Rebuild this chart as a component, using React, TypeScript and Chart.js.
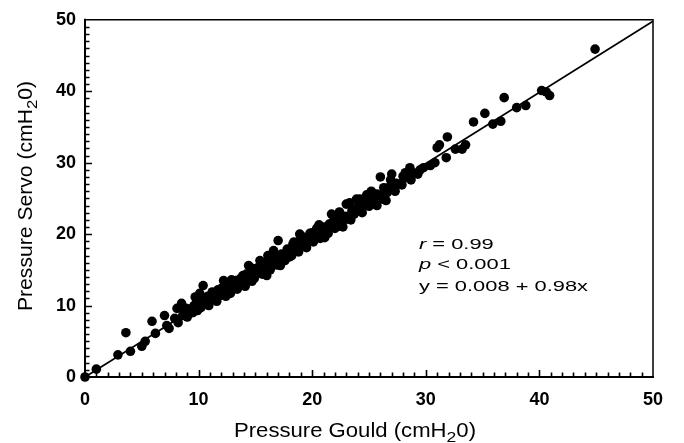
import React, { useEffect, useRef } from "react";
import { Chart, registerables } from "chart.js";

Chart.register(...registerables);

// Pressure Gould (x) and Pressure Servo (y), cmH2O
const gouldValues = [
  0, 1.0, 2.9, 3.6, 4.0, 5.0, 5.3, 5.9, 6.2, 7.0, 7.2, 7.4, 7.9, 8.1, 8.2, 8.5, 8.6, 8.8, 8.9, 9.2,
  9.5, 9.6, 9.7, 10.0, 10.1, 10.2, 10.4, 10.5, 10.7, 10.8, 11.0, 11.2, 11.4, 11.5, 11.7, 11.9, 12.0, 12.2, 12.3, 12.5,
  12.7, 12.8, 13.0, 13.1, 13.3, 13.5, 13.7, 13.9, 14.0, 14.2, 14.4, 14.5, 14.7, 14.8, 15.0, 15.2, 15.4, 15.5, 15.7, 15.9,
  16.0, 16.2, 16.4, 16.5, 16.6, 16.8, 17.0, 17.1, 17.2, 17.3, 17.5, 17.8, 18.0, 18.1, 18.3, 18.4, 18.6, 18.9, 18.9, 19.2,
  19.4, 19.5, 19.7, 19.8, 20.0, 20.2, 20.4, 20.5, 20.8, 21.0, 21.1, 21.3, 21.5, 21.7, 21.8, 21.9, 22.1, 22.3, 22.6, 22.7,
  22.9, 23.0, 23.0, 23.2, 23.3, 23.5, 23.7, 23.9, 24.0, 24.2, 24.3, 24.6, 24.9, 25.1, 25.2, 25.4, 25.7, 25.7, 26.0, 26.0,
  26.3, 26.5, 26.6, 26.8, 27.0, 27.1, 27.4, 27.7, 28.0, 28.2, 28.3, 28.6, 28.9, 29.3, 29.5, 29.8, 30.4, 30.8, 31.0, 31.2,
  31.8, 31.9, 32.6, 33.2, 33.5, 34.2, 35.2, 35.9, 36.6, 36.9, 38.0, 38.8, 40.2, 40.6, 40.9, 44.9,
  9.0, 9.9, 10.9, 11.6, 12.4, 13.4, 14.1, 14.9, 15.6, 16.3, 16.9, 17.6, 18.2, 18.8, 19.4, 20.1, 20.7, 21.4, 22.0, 22.5,
  23.4, 24.4, 25.0, 25.5, 26.2, 27.3, 27.9, 28.7, 12.9, 14.6, 16.1, 19.0, 20.6, 22.4, 24.8, 26.9,
];
const servoValues = [
  0, 1.1, 3.1, 6.2, 3.6, 4.3, 5.0, 7.8, 6.1, 8.6, 7.2, 6.8, 8.2, 9.6, 7.6, 10.3, 8.6, 9.1, 9.6, 9.5,
  9.0, 10.0, 11.2, 10.6, 11.7, 9.7, 12.8, 11.0, 10.5, 11.3, 10.7, 11.9, 11.7, 11.1, 12.2, 11.4, 12.4, 13.5, 12.6, 11.9,
  12.9, 11.7, 12.4, 12.8, 13.5, 12.9, 13.8, 14.2, 13.3, 14.4, 15.6, 13.9, 13.4, 14.9, 14.3, 15.3, 16.3, 14.8, 16.0, 15.2,
  14.2, 16.4, 15.4, 15.9, 17.7, 16.9, 19.1, 16.3, 15.6, 17.2, 16.8, 17.9, 16.8, 17.4, 18.6, 18.9, 17.9, 20.0, 19.0, 18.5,
  19.5, 18.1, 18.9, 20.1, 20.2, 19.6, 20.8, 20.3, 20.0, 21.0, 19.5, 20.5, 21.4, 22.8, 21.6, 21.9, 21.2, 22.2, 21.7, 21.0,
  22.5, 22.1, 24.2, 22.4, 24.4, 23.3, 22.8, 24.9, 23.8, 24.9, 23.4, 24.2, 24.6, 25.2, 26.0, 24.9, 24.0, 25.6, 25.4, 28.0,
  26.5, 24.7, 25.8, 26.6, 28.4, 26.5, 27.1, 27.0, 28.1, 28.6, 27.9, 29.3, 28.6, 28.4, 29.0, 29.3, 29.6, 30.0, 32.1, 32.5,
  30.7, 33.6, 31.9, 31.9, 32.5, 35.7, 36.9, 35.4, 35.8, 39.1, 37.7, 38.0, 40.1, 39.9, 39.4, 45.9,
  8.4, 9.3, 10.0, 10.6, 11.3, 12.3, 12.7, 13.8, 14.4, 15.0, 15.7, 16.3, 17.0, 17.5, 18.2, 18.9, 19.4, 20.1, 20.8, 21.1,
  22.0, 23.0, 23.9, 24.2, 24.9, 26.0, 26.9, 27.6, 13.6, 15.3, 17.0, 19.8, 21.3, 23.1, 25.5, 27.6,
];

// Regression line end points
const fitX = [0, 50];
const fitY = [0, 49.8];

const axisMin = 0;
const axisMax = 50;
const majorStep = 10;
const minorStep = 1;

const xTitle = ["Pressure Gould (cmH", "2", "0)"];
const yTitle = ["Pressure Servo (cmH", "2", "0)"];
const statLines = [
  [["r", true], [" = 0.99", false]],
  [["p", true], [" < 0.001", false]],
  [["y = 0.008 + 0.98x", false]],
];

const FONT = "'Liberation Sans', Arial, Helvetica, sans-serif";

function drawTitle(ctx: CanvasRenderingContext2D, parts: string[], targetWidth: number, mainSize: number, subSize: number, subDrop: number) {
  ctx.font = `${mainSize}px ${FONT}`;
  const w0 = ctx.measureText(parts[0]).width;
  ctx.font = `${subSize}px ${FONT}`;
  const w1 = ctx.measureText(parts[1]).width;
  ctx.font = `${mainSize}px ${FONT}`;
  const w2 = ctx.measureText(parts[2]).width;
  const total = w0 + w1 + w2;
  const sx = targetWidth / total;
  ctx.save();
  ctx.scale(sx, 1);
  let x = -total / 2;
  ctx.textAlign = "left";
  ctx.textBaseline = "alphabetic";
  ctx.font = `${mainSize}px ${FONT}`;
  ctx.fillText(parts[0], x, 0);
  x += w0;
  ctx.font = `${subSize}px ${FONT}`;
  ctx.fillText(parts[1], x, subDrop);
  x += w1;
  ctx.font = `${mainSize}px ${FONT}`;
  ctx.fillText(parts[2], x, 0);
  ctx.restore();
}

const decorPlugin = {
  id: "decor",
  afterDraw(chart: any) {
    const { ctx, chartArea: a, scales } = chart;
    const xs = scales.x;
    const ys = scales.y;
    ctx.save();
    ctx.strokeStyle = "#000";
    ctx.fillStyle = "#000";
    ctx.lineCap = "square";
    ctx.lineWidth = 1.5;
    ctx.beginPath();
    ctx.moveTo(a.left, a.top);
    ctx.lineTo(a.right, a.top);
    ctx.lineTo(a.right, a.bottom);
    ctx.stroke();
    ctx.lineWidth = 2;
    ctx.beginPath();
    ctx.moveTo(a.left, a.top);
    ctx.lineTo(a.left, a.bottom);
    ctx.lineTo(a.right, a.bottom);
    ctx.stroke();
    // inward ticks
    ctx.lineWidth = 1.6;
    ctx.lineCap = "butt";
    ctx.beginPath();
    for (let v = axisMin + minorStep; v < axisMax; v += minorStep) {
      const isMajor = Math.abs(v % majorStep) < 1e-6;
      const len = isMajor ? 7 : 4.5;
      const px = Math.round(xs.getPixelForValue(v)) + 0.5;
      ctx.moveTo(px, a.bottom);
      ctx.lineTo(px, a.bottom - len);
      const py = Math.round(ys.getPixelForValue(v)) + 0.5;
      ctx.moveTo(a.left, py);
      ctx.lineTo(a.left + len, py);
    }
    ctx.stroke();

    ctx.save();
    ctx.translate(355, 437);
    drawTitle(ctx, xTitle, 242, 19.5, 15.5, 4.5);
    ctx.restore();

    ctx.save();
    ctx.translate(32, 196);
    ctx.rotate(-Math.PI / 2);
    drawTitle(ctx, yTitle, 230, 19.5, 15.5, 4.5);
    ctx.restore();

    const size = 15.5;
    ctx.font = `${size}px ${FONT}`;
    const refW = ctx.measureText(statLines[2][0][0] as string).width;
    const sx = 169 / refW;
    const baselines = [249, 268.5, 291];
    statLines.forEach((line, i) => {
      ctx.save();
      ctx.translate(419, baselines[i]);
      ctx.scale(sx, 1);
      let x = 0;
      ctx.textAlign = "left";
      ctx.textBaseline = "alphabetic";
      line.forEach(([t, italic]) => {
        ctx.font = `${italic ? "italic " : ""}${size}px ${FONT}`;
        ctx.fillText(t as string, x, 0);
        x += ctx.measureText(t as string).width;
      });
      ctx.restore();
    });
    ctx.restore();
  },
};

export default function App() {
  const canvasRef = useRef<HTMLCanvasElement | null>(null);

  useEffect(() => {
    const canvas = canvasRef.current;
    if (!canvas) return;
    const points = gouldValues.map((x, i) => ({ x, y: servoValues[i] }));
    const fitLine = fitX.map((x, i) => ({ x, y: fitY[i] }));
    const tickFont = { family: FONT, size: 18, weight: "bold" as const };
    const chart = new Chart(canvas, {
      type: "scatter",
      data: {
        datasets: [
          {
            type: "line",
            data: fitLine,
            borderColor: "#000",
            borderWidth: 1.8,
            pointRadius: 0,
            fill: false,
            order: 2,
          } as any,
          {
            data: points,
            backgroundColor: "#000",
            borderColor: "#000",
            borderWidth: 0,
            pointRadius: 4.8,
            pointHoverRadius: 4.8,
            clip: false,
            order: 1,
          } as any,
        ],
      },
      options: {
        responsive: false,
        animation: false,
        devicePixelRatio: 1,
        layout: { padding: { left: 0, top: 18, right: 31, bottom: 0 } },
        plugins: {
          legend: { display: false },
          tooltip: { enabled: false },
          title: { display: false },
        },
        scales: {
          x: {
            type: "linear",
            min: axisMin,
            max: axisMax,
            grid: { display: false, drawTicks: false },
            border: { display: false },
            ticks: { stepSize: majorStep, font: tickFont, color: "#000", padding: 12, maxRotation: 0 },
            afterFit: (scale: any) => {
              scale.height = 66;
            },
          },
          y: {
            type: "linear",
            min: axisMin,
            max: axisMax,
            grid: { display: false, drawTicks: false },
            border: { display: false },
            ticks: { stepSize: majorStep, font: tickFont, color: "#000", padding: 9 },
            afterFit: (scale: any) => {
              scale.width = 85;
            },
          },
        },
      },
      plugins: [decorPlugin],
    });
    return () => chart.destroy();
  }, []);

  return (
    <div style={{ position: "fixed", left: 0, top: 0, width: 684, height: 443, background: "#fff" }}>
      <canvas ref={canvasRef} width={684} height={443} />
    </div>
  );
}
